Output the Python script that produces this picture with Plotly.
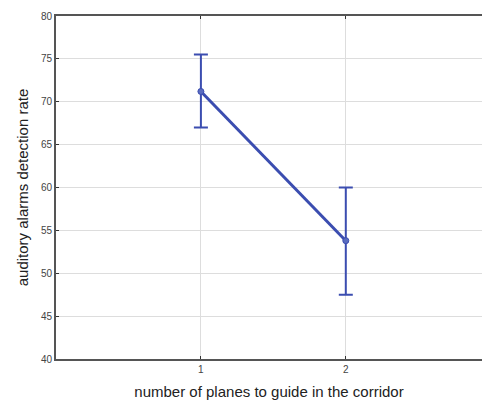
import plotly.graph_objects as go

x_vals = [1, 2]
means = [71.2, 53.8]
upper = [75.5, 60.0]
lower = [67.0, 47.5]
y_ticks = [40, 45, 50, 55, 60, 65, 70, 75, 80]
x_ticks = [1, 2]

err_plus = [u - m for u, m in zip(upper, means)]
err_minus = [m - l for m, l in zip(means, lower)]

color = "#3b4db0"

fig = go.Figure()
fig.add_trace(go.Scatter(
    x=x_vals, y=means, mode="lines+markers",
    line=dict(color=color, width=3),
    marker=dict(color="#5a6cc0", size=6, line=dict(color=color, width=1)),
    error_y=dict(type="data", symmetric=False, array=err_plus, arrayminus=err_minus,
                 color=color, thickness=2, width=7),
    showlegend=False,
))

fig.update_layout(
    width=482, height=402,
    margin=dict(l=56, r=0, t=16, b=43),
    paper_bgcolor="white", plot_bgcolor="white",
    font=dict(family="Liberation Sans, Arial, sans-serif", color="#333"),
    xaxis=dict(
        range=[0, 2.94], tickvals=x_ticks, ticktext=[str(v) for v in x_ticks],
        showgrid=True, gridcolor="#dddddd", gridwidth=1, zeroline=False,
        showline=True, linecolor="#555555", linewidth=2, mirror="allticks",
        ticks="inside", ticklen=3, tickcolor="#333333",
        tickfont=dict(size=10, color="#444"), automargin=False,
        title=dict(text="number of planes to guide in the corridor", font=dict(size=15, color="#222"), standoff=12),
    ),
    yaxis=dict(
        range=[40, 80], tickvals=y_ticks,
        showgrid=True, gridcolor="#dddddd", gridwidth=1, zeroline=False,
        showline=True, linecolor="#555555", linewidth=2,
        ticks="inside", ticklen=3, tickcolor="#333333",
        tickfont=dict(size=10, color="#444"), automargin=False,
        title=dict(text="auditory alarms detection rate", font=dict(size=15, color="#222"), standoff=9),
    ),
)

fig.write_html("out.html", config={"displayModeBar": False},
               post_script="document.body.style.margin='0';document.body.style.overflow='hidden';")
